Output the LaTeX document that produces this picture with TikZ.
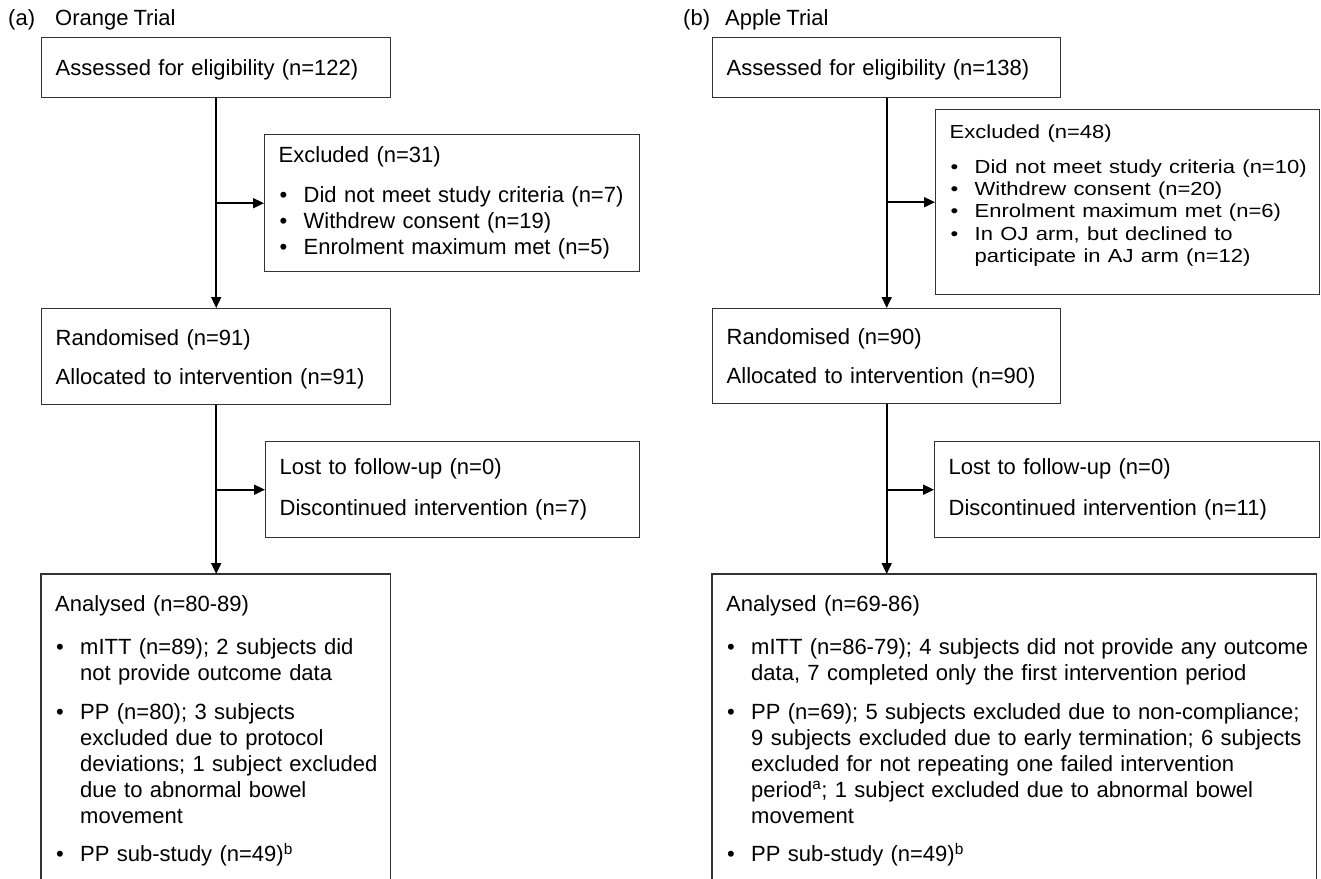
\documentclass[tikz,border=0pt]{standalone}
\usepackage{fontspec}
\setmainfont[WordSpace=0.82]{Liberation Sans}
\usepackage{graphicx}
\usetikzlibrary{arrows.meta}
\definecolor{BoxEdge}{HTML}{333333}
\newcommand{\bulitem}{\makebox[25pt][l]{\hspace{1pt}•}}
\newcommand{\contd}{\hspace*{25pt}}
\tikzset{
  flowbox/.style={draw=BoxEdge, line width=1.4pt, anchor=north west, align=left, inner xsep=14pt, inner ysep=0pt, font=\fontsize{22}{26}\selectfont},
  openbox/.style={anchor=north west, align=left, inner xsep=14pt, inner ysep=19pt, font=\fontsize{22}{26}\selectfont},
  boxedge/.style={draw=BoxEdge, line width=1.4pt},
  panellabel/.style={anchor=base west, inner sep=0pt, font=\fontsize{22}{26}\selectfont},
  arrow/.style={-{Triangle[length=11pt, width=10pt]}, line width=1.8pt, draw=black}
}
\begin{document}
\begin{tikzpicture}[x=1pt, y=-1pt]
\useasboundingbox (0,0) rectangle (1321,878);
% (a) orange trial
\node[panellabel] (capA) at (8,25) {(a)};
\node[panellabel] (nameA) at (55,25) {Orange Trial};
\node[flowbox, text width=321pt, minimum height=60pt] (assA) at (41,37) {\raisebox{-2pt}[\height][\depth]{Assessed for eligibility (n=122)}};
\node[flowbox, text width=347pt, minimum height=137pt] (exclA) at (264,134) {\begin{tabular}{@{}l@{}}
  Excluded (n=31)\\[14pt]
  \bulitem Did not meet study criteria (n=7)\\
  \bulitem Withdrew consent (n=19)\\
  \bulitem Enrolment maximum met (n=5)
  \end{tabular}};
\node[flowbox, text width=321pt, minimum height=96pt] (randA) at (41,308) {\raisebox{-3pt}[\height][\depth]{\begin{tabular}{@{}l@{}}
  Randomised (n=91)\\[13pt]
  Allocated to intervention (n=91)
  \end{tabular}}};
\node[flowbox, text width=346pt, minimum height=96pt] (lostA) at (265,441) {\begin{tabular}{@{}l@{}}
  Lost to follow-up (n=0)\\[15pt]
  Discontinued intervention (n=7)
  \end{tabular}};
\node[openbox, text width=321pt] (anaA) at (41,574) {\begin{tabular}{@{}l@{}}
  Analysed (n=80-89)\\[17pt]
  \bulitem mITT (n=89); 2 subjects did\\
  \contd not provide outcome data\\[13pt]
  \bulitem PP (n=80); 3 subjects\\
  \contd excluded due to protocol\\
  \contd deviations; 1 subject excluded\\
  \contd due to abnormal bowel\\
  \contd movement\\[12pt]
  \bulitem PP sub-study (n=49)\textsuperscript{b}
  \end{tabular}};
\draw[boxedge] (anaA.south west) -- (anaA.north west) -- (anaA.north east) -- (anaA.south east);
\coordinate (forkA1) at (assA.south |- exclA.west);
\coordinate (forkA2) at (randA.south |- lostA.west);
\draw[arrow] (assA.south) -- (randA.north);
\draw[arrow] (forkA1) -- (exclA.west);
\draw[arrow] (randA.south) -- (randA.south |- anaA.north);
\draw[arrow] (forkA2) -- (lostA.west);
% (b) apple trial
\node[panellabel] (capB) at (683,25) {(b)};
\node[panellabel] (nameB) at (725,25) {Apple Trial};
\node[flowbox, text width=320pt, minimum height=60pt] (assB) at (712,37) {\raisebox{-2pt}[\height][\depth]{Assessed for eligibility (n=138)}};
\node[flowbox, text width=356pt, minimum height=185pt] (exclB) at (935,109) {\raisebox{6pt}[\height][\depth]{\scalebox{1}[0.86]{\begin{tabular}{@{}l@{}}
  Excluded (n=48)\\[14pt]
  \bulitem Did not meet study criteria (n=10)\\
  \bulitem Withdrew consent (n=20)\\
  \bulitem Enrolment maximum met (n=6)\\
  \bulitem In OJ arm, but declined to\\
  \contd participate in AJ arm (n=12)
  \end{tabular}}}};
\node[flowbox, text width=320pt, minimum height=95pt] (randB) at (712,308) {\raisebox{-3pt}[\height][\depth]{\begin{tabular}{@{}l@{}}
  Randomised (n=90)\\[13pt]
  Allocated to intervention (n=90)
  \end{tabular}}};
\node[flowbox, text width=357pt, minimum height=96pt] (lostB) at (934,441) {\begin{tabular}{@{}l@{}}
  Lost to follow-up (n=0)\\[15pt]
  Discontinued intervention (n=11)
  \end{tabular}};
\node[openbox, text width=576pt] (anaB) at (712,574) {\begin{tabular}{@{}l@{}}
  Analysed (n=69-86)\\[17pt]
  \bulitem mITT (n=86-79); 4 subjects did not provide any outcome\\
  \contd data, 7 completed only the first intervention period\\[13pt]
  \bulitem PP (n=69); 5 subjects excluded due to non-compliance;\\
  \contd 9 subjects excluded due to early termination; 6 subjects\\
  \contd excluded for not repeating one failed intervention\\
  \contd period\textsuperscript{a}; 1 subject excluded due to abnormal bowel\\
  \contd movement\\[12pt]
  \bulitem PP sub-study (n=49)\textsuperscript{b}
  \end{tabular}};
\draw[boxedge] (anaB.south west) -- (anaB.north west) -- (anaB.north east) -- (anaB.south east);
\coordinate (forkB1) at (assB.south |- exclB.west);
\coordinate (forkB2) at (randB.south |- lostB.west);
\draw[arrow] (assB.south) -- (randB.north);
\draw[arrow] (forkB1) -- (exclB.west);
\draw[arrow] (randB.south) -- (randB.south |- anaB.north);
\draw[arrow] (forkB2) -- (lostB.west);
\end{tikzpicture}
\end{document}
